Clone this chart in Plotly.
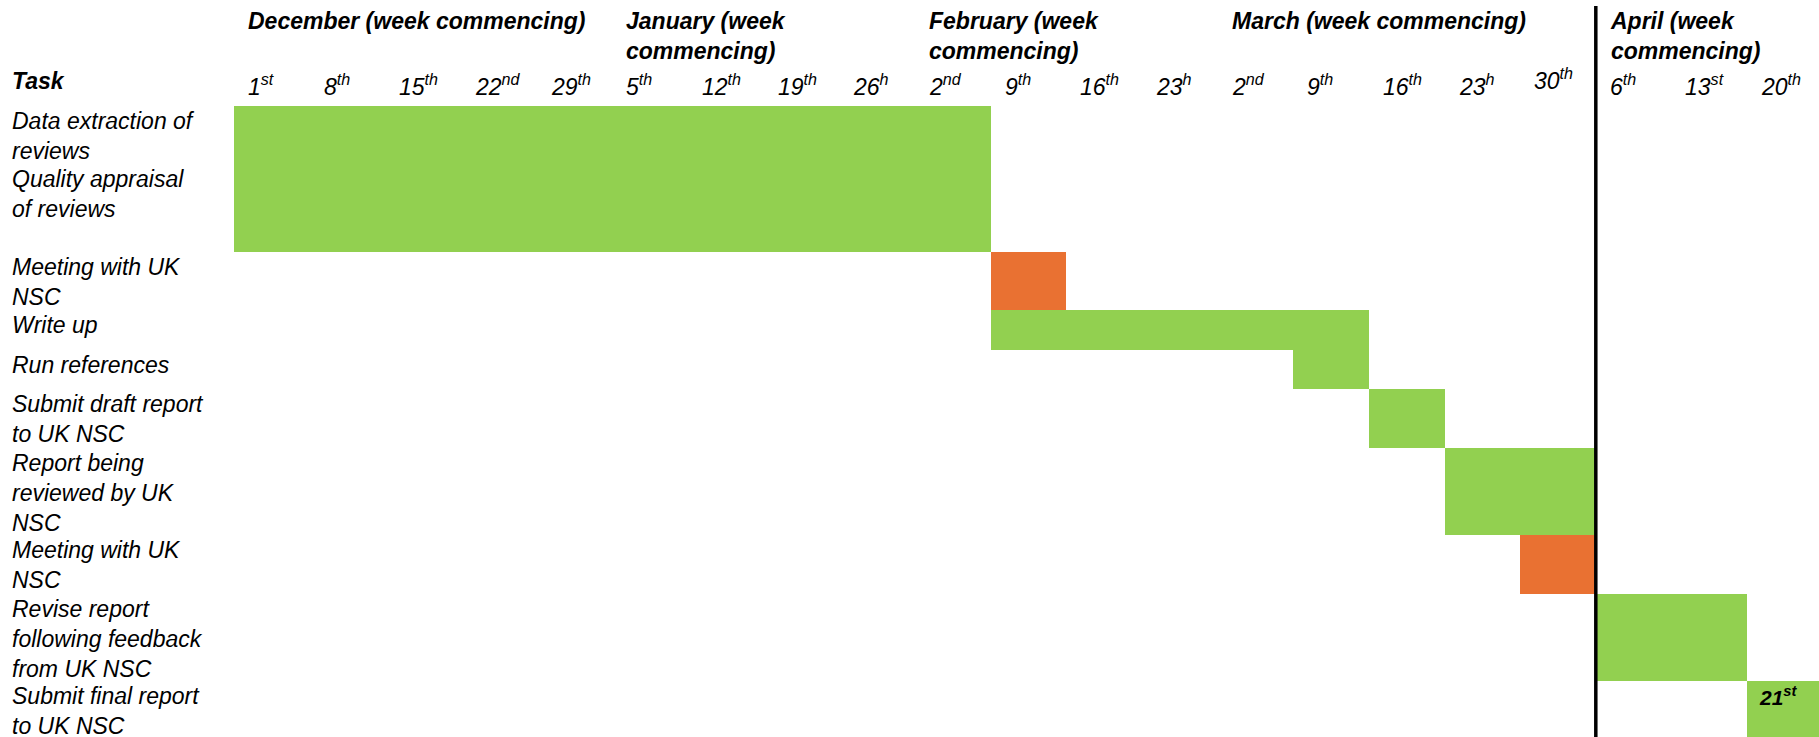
import plotly.graph_objects as go

# ---------------- data ----------------
weeks = ["1<sup>st</sup>", "8<sup>th</sup>", "15<sup>th</sup>", "22<sup>nd</sup>", "29<sup>th</sup>",
         "5<sup>th</sup>", "12<sup>th</sup>", "19<sup>th</sup>", "26<sup>h</sup>",
         "2<sup>nd</sup>", "9<sup>th</sup>", "16<sup>th</sup>", "23<sup>h</sup>",
         "2<sup>nd</sup>", "9<sup>th</sup>", "16<sup>th</sup>", "23<sup>h</sup>", "30<sup>th</sup>",
         "6<sup>th</sup>", "13<sup>st</sup>", "20<sup>th</sup>"]
months = ["December (week commencing)", "January (week<br>commencing)",
          "February (week<br>commencing)", "March (week commencing)",
          "April (week<br>commencing)"]
month_first_week = [0, 5, 9, 13, 18]

tasks = ["Data extraction of<br>reviews",
         "Quality appraisal<br>of reviews<br> ",
         "Meeting with UK<br>NSC",
         "Write up",
         "Run references",
         "Submit draft report<br>to UK NSC",
         "Report being<br>reviewed by UK<br>NSC",
         "Meeting with UK<br>NSC",
         "Revise report<br>following feedback<br>from UK NSC",
         "Submit final report<br>to UK NSC"]
task_start_week = [0, 0, 10, 10, 14, 15, 16, 17, 18, 20]
task_n_weeks = [10, 10, 1, 5, 1, 1, 2, 1, 2, 1]
task_kind = ["work", "work", "meeting", "work", "work", "work", "work", "meeting", "work", "work"]
task_note = ["", "", "", "", "", "", "", "", "", "21<sup>st</sup>"]
deadline_week = 18  # thick line before April

# ---------------- layout constants ----------------
W, H = 1819, 737
L, T, R, B = 234, 106, 0, 0
PW, PH = W - L - R, H - T - B
UNIT = 29.2           # px per text line
MIN_LINES = 1.35
FONT = "Liberation Sans"
FS = 23
COLORS = {"work": "#92D050", "meeting": "#E97132"}

def px_to_paper_y(p):
    return (H - B - p) / PH

def px_to_paper_x(p):
    return (p - L) / PW

# row geometry from label line counts
row_lines = []
for t in tasks:
    n = t.count("<br>") + 1
    row_lines.append(n if n > 1 else MIN_LINES)
row_top = []
acc = 0.0
for n in row_lines:
    row_top.append(acc)
    acc += n
row_center = [rt + n / 2 for rt, n in zip(row_top, row_lines)]

fig = go.Figure()
fig.add_trace(go.Bar(
    orientation="h",
    y=row_center,
    x=task_n_weeks,
    base=task_start_week,
    width=row_lines,
    marker=dict(color=[COLORS[k] for k in task_kind], line=dict(width=0)),
    hoverinfo="skip",
    showlegend=False,
))

ann = []
# task labels
for t, rt in zip(tasks, row_top):
    ann.append(dict(text=f"<i>{t}</i>", xref="paper", x=px_to_paper_x(10), xanchor="left",
                    yref="y", y=rt, yanchor="top", showarrow=False, align="left",
                    font=dict(family=FONT, size=FS, color="black")))
# notes inside bars
for note, s, rt in zip(task_note, task_start_week, row_top):
    if note:
        ann.append(dict(text=f"<b><i>{note}</i></b>", xref="x", x=s, xshift=10, xanchor="left",
                        yref="y", y=rt, yanchor="top", showarrow=False,
                        font=dict(family=FONT, size=FS - 2, color="black")))
# header: Task
ann.append(dict(text="<b><i>Task</i></b>", xref="paper", x=px_to_paper_x(10), xanchor="left",
                yref="paper", y=px_to_paper_y(81), yanchor="middle", showarrow=False,
                font=dict(family=FONT, size=FS, color="black")))
# week labels
for i, wk in enumerate(weeks):
    ann.append(dict(text=f"<i>{wk}</i>", xref="x", x=i, xshift=12, xanchor="left",
                    yref="paper", y=px_to_paper_y(85 if i != 17 else 79), yanchor="middle",
                    showarrow=False, font=dict(family=FONT, size=FS, color="black")))
# month labels
for m, fw in zip(months, month_first_week):
    ann.append(dict(text=f"<b><i>{m}</i></b>", xref="x", x=fw, xshift=12, xanchor="left",
                    yref="paper", y=px_to_paper_y(6), yanchor="top", align="left",
                    showarrow=False, font=dict(family=FONT, size=FS, color="black")))

fig.add_shape(type="line", xref="x", yref="paper", x0=deadline_week, x1=deadline_week,
              y0=0, y1=px_to_paper_y(6), line=dict(color="black", width=3.5))

fig.update_layout(
    width=W, height=H,
    margin=dict(l=L, r=R, t=T, b=B, pad=0),
    paper_bgcolor="white", plot_bgcolor="white",
    xaxis=dict(range=[0, len(weeks) - 0.05], visible=False, fixedrange=True),
    yaxis=dict(range=[PH / UNIT, 0], visible=False, fixedrange=True),
    annotations=ann,
    bargap=0,
)
fig.write_html("out.html", config={"displayModeBar": False},
               post_script="document.body.style.margin='0';document.body.style.overflow='hidden';")
